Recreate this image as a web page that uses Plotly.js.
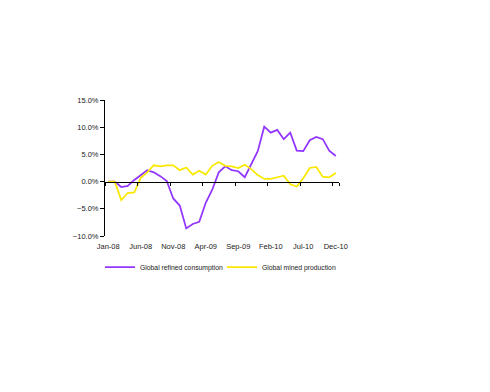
<!DOCTYPE html>
<html>
<head>
<meta charset="utf-8">
<script src="https://cdn.plot.ly/plotly-3.0.1.min.js"></script>
<style>html,body{margin:0;padding:0;background:#fff;}#chart{width:490px;height:392px;}</style>
</head>
<body>
<div id="chart"></div>
<script>
const months = ['Jan-08','Feb-08','Mar-08','Apr-08','May-08','Jun-08','Jul-08','Aug-08','Sep-08','Oct-08','Nov-08','Dec-08',
  'Jan-09','Feb-09','Mar-09','Apr-09','May-09','Jun-09','Jul-09','Aug-09','Sep-09','Oct-09','Nov-09','Dec-09',
  'Jan-10','Feb-10','Mar-10','Apr-10','May-10','Jun-10','Jul-10','Aug-10','Sep-10','Oct-10','Nov-10','Dec-10'];
const tickLabels = ['Jan-08','Jun-08','Nov-08','Apr-09','Sep-09','Feb-10','Jul-10','Dec-10'];
const consumption = [0.0, 0.0, -1.0, -0.8, 0.3, 1.2, 2.1, 1.7, 1.0, 0.1, -3.1, -4.4,
  -8.6, -7.8, -7.4, -3.9, -1.5, 1.7, 2.8, 2.1, 1.9, 0.8, 3.3, 5.6,
  10.1, 9.0, 9.5, 7.8, 9.0, 5.7, 5.6, 7.6, 8.2, 7.8, 5.7, 4.7];
const production = [0.0, 0.0, -3.4, -2.1, -2.0, 0.7, 1.7, 3.0, 2.8, 3.0, 3.0, 2.1,
  2.6, 1.3, 2.0, 1.3, 2.9, 3.6, 2.9, 2.8, 2.5, 3.1, 2.3, 1.2,
  0.5, 0.5, 0.8, 1.1, -0.5, -0.9, 0.6, 2.5, 2.7, 0.9, 0.8, 1.6];

const font = {family: 'Liberation Sans, Arial, sans-serif', size: 7.5, color: '#222'};

const traces = [
  {x: months, y: consumption, type: 'scatter', mode: 'lines', name: 'Global refined consumption',
   line: {color: '#9236FF', width: 1.75}, xaxis: 'x', yaxis: 'y'},
  {x: months, y: production, type: 'scatter', mode: 'lines', name: 'Global mined production',
   line: {color: '#FAE800', width: 1.75}, xaxis: 'x2', yaxis: 'y'}
];

const layout = {
  width: 490, height: 392,
  margin: {l: 105, r: 151, t: 100, b: 156},
  paper_bgcolor: '#fff', plot_bgcolor: '#fff',
  font: font,
  showlegend: true,
  legend: {orientation: 'h', x: -0.0214, xanchor: 'left', y: -0.228, yanchor: 'middle',
    font: {family: 'Liberation Sans, Arial, sans-serif', size: 6.8, color: '#222'},
    entrywidth: 77, entrywidthmode: 'pixels', bgcolor: 'rgba(0,0,0,0)'},
  xaxis: {type: 'category', categoryarray: months, categoryorder: 'array', range: [-0.5, 35.5],
    tickmode: 'array', tickvals: tickLabels, ticktext: tickLabels,
    ticks: '', showline: false, showgrid: false, zeroline: false, ticklabelstandoff: 4,
    tickfont: font, automargin: false},
  xaxis2: {type: 'category', categoryarray: months, categoryorder: 'array', range: [-0.5, 35.5],
    overlaying: 'x', anchor: 'free', position: 0.4, matches: 'x',
    tickmode: 'array', tickvals: tickLabels, tickson: 'boundaries',
    ticks: 'outside', ticklen: 3, tickcolor: '#000', tickwidth: 1,
    showticklabels: false, showline: true, linecolor: '#000', linewidth: 1,
    showgrid: false, zeroline: false},
  yaxis: {range: [-10, 15], tickmode: 'linear', tick0: -10, dtick: 5,
    tickformat: '.1f', ticksuffix: '%', ticks: 'outside', ticklen: 4, tickcolor: '#000',
    showline: true, linecolor: '#000', linewidth: 1, showgrid: false, zeroline: false,
    tickfont: font, automargin: false}
};

Plotly.newPlot('chart', traces, layout, {displayModeBar: false, staticPlot: true});
</script>
</body>
</html>
